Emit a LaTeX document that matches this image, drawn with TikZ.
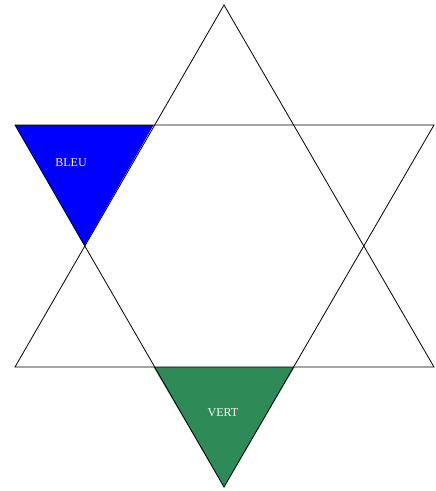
\documentclass[tikz,border=0pt]{standalone}
\usepackage{fontspec}
\setmainfont{Liberation Serif}
\usepackage{xcolor}
\definecolor{bleu}{RGB}{0,0,255}
\definecolor{vert}{RGB}{46,139,87}

\begin{document}
\begin{tikzpicture}[
  x=1pt, y=-1pt,
  trait/.style   = {draw=black, line width=0.8pt, line join=miter},
  etiquette/.style = {text=white, font=\fontsize{12}{14}\selectfont, inner sep=0pt}
]
\useasboundingbox (0,0) rectangle (436,491);
% sommets des deux grands triangles
\coordinate (haut)    at (224,5);
\coordinate (basg)    at (15,367);
\coordinate (basd)    at (434,367);
\coordinate (hautg)   at (15,125);
\coordinate (hautd)   at (434,125);
\coordinate (bas)     at (224,487);
% points d'intersection utiles
\coordinate (ig)      at (153.5,125);
\coordinate (ibg)     at (84.5,246);
\coordinate (ibasg)   at (153.5,367);
\coordinate (ibasd)   at (294.5,367);
% pointes coloriees
\fill[bleu] (hautg) -- (ig) -- (ibg) -- cycle;
\fill[vert] (ibasg) -- (ibasd) -- (bas) -- cycle;
\node[etiquette] (bleu) at (71,163) {BLEU};
\node[etiquette] (vert) at (223,413) {VERT};
% contours
\draw[trait] (haut) -- (basd) -- (basg) -- cycle;
\draw[trait] (hautg) -- (hautd) -- (bas) -- cycle;
\end{tikzpicture}
\end{document}
